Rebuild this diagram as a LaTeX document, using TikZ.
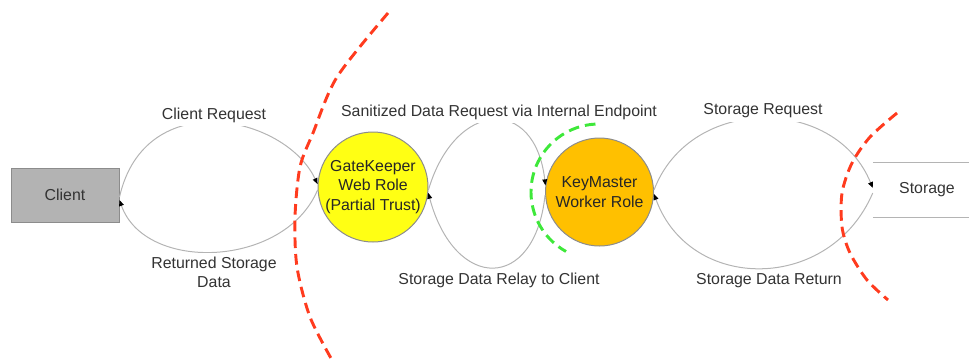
\documentclass[tikz,border=0pt]{standalone}
\usepackage{fontspec}
\setmainfont{Liberation Sans}
\usetikzlibrary{arrows.meta}
\definecolor{txt}{HTML}{333333}
\definecolor{wire}{HTML}{B4B4B4}
\definecolor{edge}{HTML}{8C8C8C}
\definecolor{redd}{HTML}{FF3B1E}
\definecolor{grn}{HTML}{3EE83A}
\definecolor{clientfill}{HTML}{B3B3B3}
\definecolor{gkfill}{HTML}{FFFF14}
\definecolor{kmfill}{HTML}{FFC000}
\begin{document}
\begin{tikzpicture}[x=0.75pt,y=-0.75pt,
  font=\fontsize{11.9}{14.5}\selectfont,
  conn/.style={draw=wire, line width=0.75pt, -{Triangle[length=4.5pt,width=3.6pt,color=black]}},
  lbl/.style={fill=white, text=txt, inner xsep=2pt, inner ysep=3pt, align=center},
  bound/.style={line width=2.2pt, dash pattern=on 8pt off 4.5pt},
  role/.style={circle, draw=edge, line width=0.75pt, inner sep=0pt, align=center, text=black!85},
]
\useasboundingbox (0,0) rectangle (969,362);
\coordinate (rt) at (969,0);

% nodes
\node[draw=edge, fill=clientfill, line width=0.75pt, minimum width=81pt, minimum height=40.5pt, inner sep=0pt, text=txt] (client) at (65,195) {Client};
\node[role, fill=gkfill, minimum size=82.5pt] (gk) at (373,187) {GateKeeper\\Web Role\\(Partial Trust)};
\node[role, fill=kmfill, minimum size=81pt] (km) at (599.5,192) {KeyMaster\\Worker Role};
\node[minimum width=81pt, minimum height=40.5pt, inner sep=0pt, text=txt] (st) at (927,190) {\raisebox{-0.75pt}{Storage}};
\draw[wire, line width=0.75pt] (st.north west) -- (st.north west -| rt);
\draw[wire, line width=0.75pt] (st.south west) -- (st.south west -| rt);

% connectors
\draw[conn] ([yshift=-1.5pt]client.east) .. controls (145,85) and (285,115) .. (gk.177);
\draw[conn] (gk.183) .. controls (285,268) and (145,273) .. ([yshift=-3.75pt]client.east);
\draw[conn] (gk.-3) .. controls (455,100) and (535,95) .. (km.173);
\draw[conn] (km.183) .. controls (535,292) and (455,292) .. (gk.-6);
\draw[conn] (km.2) .. controls (690,95) and (835,95) .. ([yshift=1.5pt]st.west);
\draw[conn] ([yshift=-2.25pt]st.west) .. controls (830,293) and (690,293) .. (km.-2);

% labels
\node[lbl] (l1) at (214,115) {Client Request};
\node[lbl] (l2) at (214,272.5) {Returned Storage\\Data};
\node[lbl] (l3) at (499,112) {Sanitized Data Request via Internal Endpoint};
\node[lbl] (l4) at (499,280) {Storage Data Relay to Client};
\node[lbl] (l5) at (763,111) {Storage Request};
\node[lbl] (l6) at (769,281) {Storage Data Return};

% trust boundaries
\draw[bound, draw=redd] plot[smooth] coordinates {(388,13) (337,77) (313,133) (300,167) (295,217) (297,267) (310,317) (332,360)};
\draw[bound, draw=redd] plot[smooth] coordinates {(897,113) (870,137) (852,163) (842,193) (842,227) (850,253) (867,280) (888,300)};
\draw[bound, draw=grn] plot[smooth, domain=93:241, samples=40] ({599+68*cos(\x)}, {192-68*sin(\x)});
\end{tikzpicture}
\end{document}
